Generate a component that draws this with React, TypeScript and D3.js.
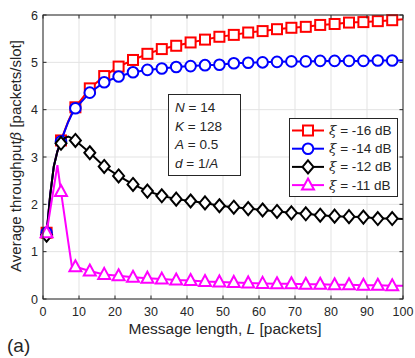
import * as d3 from 'd3';

// marker positions (message length L)
const markerL = [1, 5, 9, 13, 17, 21, 25, 29, 33, 37, 41, 45, 49, 53, 57, 61, 65, 69, 73, 77, 81, 85, 89, 93, 97];
// extra line-only points
const extraL = [2, 3, 4, 6, 7, 8, 100];

const red = [1.40, 3.35, 4.05, 4.45, 4.71, 4.91, 5.05, 5.18, 5.28, 5.35, 5.42, 5.48, 5.54, 5.58, 5.63, 5.66, 5.70, 5.73, 5.75, 5.79, 5.81, 5.84, 5.85, 5.87, 5.89];
const redExtra = [2.2, 2.8, 3.12, 3.55, 3.75, 3.92, 5.91];
const blue = [1.40, 3.33, 4.03, 4.36, 4.58, 4.70, 4.79, 4.84, 4.87, 4.90, 4.92, 4.94, 4.95, 4.98, 4.99, 5.00, 5.01, 5.02, 5.02, 5.03, 5.03, 5.03, 5.03, 5.04, 5.04];
const blueExtra = [2.2, 2.8, 3.12, 3.54, 3.74, 3.9, 5.04];
const black = [1.35, 3.29, 3.35, 3.09, 2.80, 2.60, 2.42, 2.28, 2.18, 2.11, 2.07, 2.03, 1.97, 1.94, 1.91, 1.88, 1.85, 1.82, 1.80, 1.77, 1.75, 1.74, 1.73, 1.70, 1.70];
const blackExtra = [2.2, 2.8, 3.12, 3.40, 3.43, 3.40, 1.69];
const magenta = [1.40, 2.27, 0.68, 0.59, 0.52, 0.49, 0.46, 0.44, 0.42, 0.40, 0.39, 0.37, 0.36, 0.35, 0.34, 0.33, 0.32, 0.32, 0.31, 0.31, 0.30, 0.30, 0.29, 0.29, 0.28];
const magentaExtra = [1.88, 2.35, 2.83, 1.74, 1.21, 0.70, 0.28];

const legendLabels = ['-16 dB', '-14 dB', '-12 dB', '-11 dB'];
const xTicks = [0, 10, 20, 30, 40, 50, 60, 70, 80, 90, 100];
const yTicks = [0, 1, 2, 3, 4, 5, 6];
const paramLines = [['N', ' = 14'], ['K', ' = 128'], ['A', ' = 0.5'], ['d', ' = 1/', 'A']];

const FONT = 'Liberation Sans, Arial, Helvetica, sans-serif';

const series = [
  { color: '#ff0000', shape: 'square', vals: red, extra: redExtra },
  { color: '#0000ff', shape: 'circle', vals: blue, extra: blueExtra },
  { color: '#000000', shape: 'diamond', vals: black, extra: blackExtra },
  { color: '#ff00ff', shape: 'triangle', vals: magenta, extra: magentaExtra },
];

const Marker = ({ shape, color, cx, cy }: { shape: string; color: string; cx: number; cy: number }) => {
  const common = { fill: 'white', stroke: color, strokeWidth: 2 };
  if (shape === 'square') return <rect x={cx - 5} y={cy - 5} width={10} height={10} {...common} />;
  if (shape === 'circle') return <circle cx={cx} cy={cy} r={5.3} {...common} />;
  if (shape === 'diamond')
    return <path d={`M${cx},${cy - 6.5}L${cx + 5.5},${cy}L${cx},${cy + 6.5}L${cx - 5.5},${cy}Z`} {...common} />;
  return <path d={`M${cx},${cy - 6.5}L${cx + 6},${cy + 4.5}L${cx - 6},${cy + 4.5}Z`} {...common} />;
};

export default function App() {
  const width = 415;
  const height = 358;
  const x = d3.scaleLinear().domain([0, 100]).range([43, 403]);
  const y = d3.scaleLinear().domain([0, 6]).range([299, 15]);
  const [x0, x1] = x.range();
  const [y0, y1] = y.range();

  const line = d3
    .line<[number, number]>()
    .x((d) => x(d[0]))
    .y((d) => y(d[1]));

  return (
    <svg
      width={width}
      height={height}
      style={{ position: 'absolute', left: 0, top: 0, background: 'white', fontFamily: FONT }}
    >
      {/* grid */}
      {xTicks.map((t) => (
        <line key={'gx' + t} x1={x(t)} x2={x(t)} y1={y0} y2={y1} stroke="#e3e3e3" strokeWidth={1} />
      ))}
      {yTicks.map((t) => (
        <line key={'gy' + t} x1={x0} x2={x1} y1={y(t)} y2={y(t)} stroke="#e3e3e3" strokeWidth={1} />
      ))}

      {/* series */}
      {series.map((s, i) => {
        const pts: [number, number][] = markerL
          .map((l, j) => [l, s.vals[j]] as [number, number])
          .concat(extraL.map((l, j) => [l, s.extra[j]] as [number, number]))
          .sort((a, b) => a[0] - b[0]);
        return (
          <g key={'s' + i}>
            <path d={line(pts) || ''} fill="none" stroke={s.color} strokeWidth={2} />
            {markerL.map((l, j) => (
              <Marker key={j} shape={s.shape} color={s.color} cx={x(l)} cy={y(s.vals[j])} />
            ))}
          </g>
        );
      })}

      {/* axes box */}
      <rect x={x0} y={y1} width={x1 - x0} height={y0 - y1} fill="none" stroke="#262626" strokeWidth={1} />
      {xTicks.map((t) => (
        <g key={'tx' + t}>
          <line x1={x(t)} x2={x(t)} y1={y0} y2={y0 - 3.5} stroke="#262626" />
          <line x1={x(t)} x2={x(t)} y1={y1} y2={y1 + 3.5} stroke="#262626" />
          <text x={x(t)} y={y0 + 17} textAnchor="middle" fontSize={12.5} fill="#262626">
            {t}
          </text>
        </g>
      ))}
      {yTicks.map((t) => (
        <g key={'ty' + t}>
          <line x1={x0} x2={x0 + 3.5} y1={y(t)} y2={y(t)} stroke="#262626" />
          <line x1={x1} x2={x1 - 3.5} y1={y(t)} y2={y(t)} stroke="#262626" />
          <text x={x0 - 5} y={y(t) + 4.5} textAnchor="end" fontSize={12.5} fill="#262626">
            {t}
          </text>
        </g>
      ))}

      {/* axis labels */}
      <text x={225} y={334} textAnchor="middle" fontSize={15.5} fill="#262626">
        Message length, <tspan fontStyle="italic">L</tspan> [packets]
      </text>
      <text
        transform={`translate(21, 156) rotate(-90)`}
        textAnchor="middle"
        fontSize={15}
        fill="#262626"
      >
        Average throughput<tspan fontFamily="DejaVu Serif" fontStyle="italic">β</tspan> [packets/slot]
      </text>
      <text x={7} y={352} fontSize={19} fill="#262626">
        (a)
      </text>

      {/* parameter box */}
      <rect x={168.5} y={94.5} width={72} height={81} fill="white" stroke="#262626" strokeWidth={1} />
      {paramLines.map((p, i) => (
        <text key={'p' + i} x={175} y={112 + i * 18.6} fontSize={13.5} fill="#262626">
          <tspan fontStyle="italic">{p[0]}</tspan>
          {p[1]}
          {p[2] ? <tspan fontStyle="italic">{p[2]}</tspan> : null}
        </text>
      ))}

      {/* legend */}
      <rect x={289.5} y={118.5} width={108} height={78} fill="white" stroke="#262626" strokeWidth={1} />
      {series.map((s, i) => {
        const ly = 130.5 + i * 18.2;
        return (
          <g key={'l' + i}>
            <line x1={292} x2={324} y1={ly} y2={ly} stroke={s.color} strokeWidth={2} />
            <Marker shape={s.shape} color={s.color} cx={308} cy={ly} />
            <text x={329} y={ly + 4.5} fontSize={13.5} fill="#262626">
              <tspan fontFamily="DejaVu Serif" fontStyle="italic">ξ</tspan> = {legendLabels[i]}
            </text>
          </g>
        );
      })}
    </svg>
  );
}
